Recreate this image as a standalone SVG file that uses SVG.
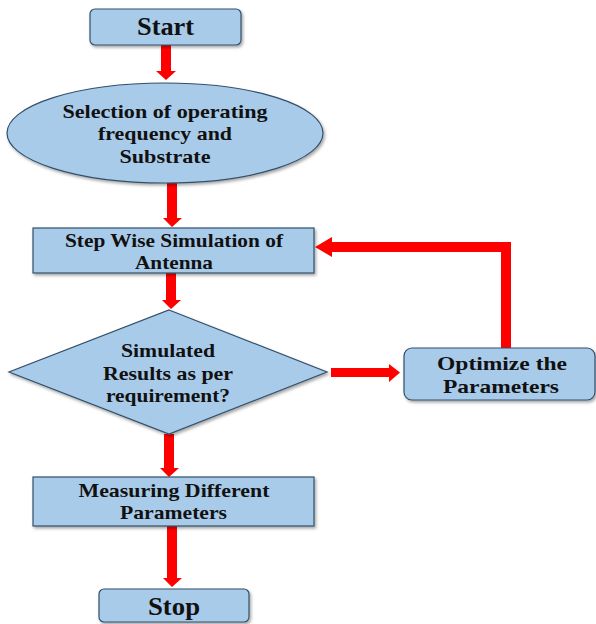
<svg xmlns="http://www.w3.org/2000/svg" width="596" height="624" viewBox="0 0 596 624">
  <defs>
    <filter id="sh" x="-10%" y="-10%" width="130%" height="140%">
      <feDropShadow dx="1.5" dy="2" stdDeviation="1.5" flood-color="#000" flood-opacity="0.35"/>
    </filter>
  </defs>
  <style>
    .n { fill: #a9cbea; stroke: #33506b; stroke-width: 1.2; filter: url(#sh); }
    .t { font-family: "Liberation Serif", "Times New Roman", serif; font-weight: bold; font-size: 19px; fill: #111; text-anchor: middle; }
    .big { font-size: 25px; }
    .a { fill: #ff0000; stroke: none; }
  </style>
  <rect width="596" height="624" fill="#ffffff"/>

  <g id="connectors">
    <polygon class="a" points="161,45 171,45 171,71 176,71 166,80 156,71 161,71"/>
    <polygon class="a" points="167,183 177,183 177,218 182,218 172,227 163,218 167,218"/>
    <polygon class="a" points="166,273 176,273 176,300 181,300 171,309 162,300 166,300"/>
    <polygon class="a" points="331,368 389,368 389,364 400,372.5 389,382 389,377 331,377"/>
    <polygon class="a" points="511,348 501,348 501,252 332,252 332,257 315,247 332,237 332,242 511,242"/>
    <polygon class="a" points="164,434 174,434 174,468 179,468 169,477 160,468 164,468"/>
    <polygon class="a" points="167,526 177,526 177,578 182,578 172,587 163,578 167,578"/>
  </g>

  <g id="start">
    <rect class="n" x="90" y="9" width="151" height="36" rx="5"/>
    <text class="t big" x="165.5" y="35" textLength="57" lengthAdjust="spacingAndGlyphs">Start</text>
  </g>

  <g id="selection">
    <ellipse class="n" cx="165" cy="133" rx="158" ry="50"/>
    <text class="t" x="165" y="118" textLength="205" lengthAdjust="spacingAndGlyphs">Selection of operating</text>
    <text class="t" x="165" y="140" textLength="134" lengthAdjust="spacingAndGlyphs">frequency and</text>
    <text class="t" x="165" y="163" textLength="91" lengthAdjust="spacingAndGlyphs">Substrate</text>
  </g>

  <g id="simulation">
    <rect class="n" x="33" y="228" width="281" height="45"/>
    <text class="t" x="174" y="247" textLength="218" lengthAdjust="spacingAndGlyphs">Step Wise Simulation of</text>
    <text class="t" x="174" y="268.5" textLength="78" lengthAdjust="spacingAndGlyphs">Antenna</text>
  </g>

  <g id="decision">
    <polygon class="n" points="169,310 327,372 169,434 9,372"/>
    <text class="t" x="168" y="357" textLength="94" lengthAdjust="spacingAndGlyphs">Simulated</text>
    <text class="t" x="168" y="380" textLength="130" lengthAdjust="spacingAndGlyphs">Results as per</text>
    <text class="t" x="168" y="402" textLength="124" lengthAdjust="spacingAndGlyphs">requirement?</text>
  </g>

  <g id="optimize">
    <rect class="n" x="404" y="348" width="191" height="52" rx="8"/>
    <text class="t" x="502" y="370" textLength="130" lengthAdjust="spacingAndGlyphs">Optimize the</text>
    <text class="t" x="501" y="393" textLength="116" lengthAdjust="spacingAndGlyphs">Parameters</text>
  </g>

  <g id="measuring">
    <rect class="n" x="33" y="477" width="281" height="49"/>
    <text class="t" x="174" y="497" textLength="191" lengthAdjust="spacingAndGlyphs">Measuring Different</text>
    <text class="t" x="173.5" y="519" textLength="107" lengthAdjust="spacingAndGlyphs">Parameters</text>
  </g>

  <g id="stop">
    <rect class="n" x="99" y="589" width="150" height="33" rx="5"/>
    <text class="t big" x="174" y="615" textLength="52" lengthAdjust="spacingAndGlyphs">Stop</text>
  </g>
</svg>
